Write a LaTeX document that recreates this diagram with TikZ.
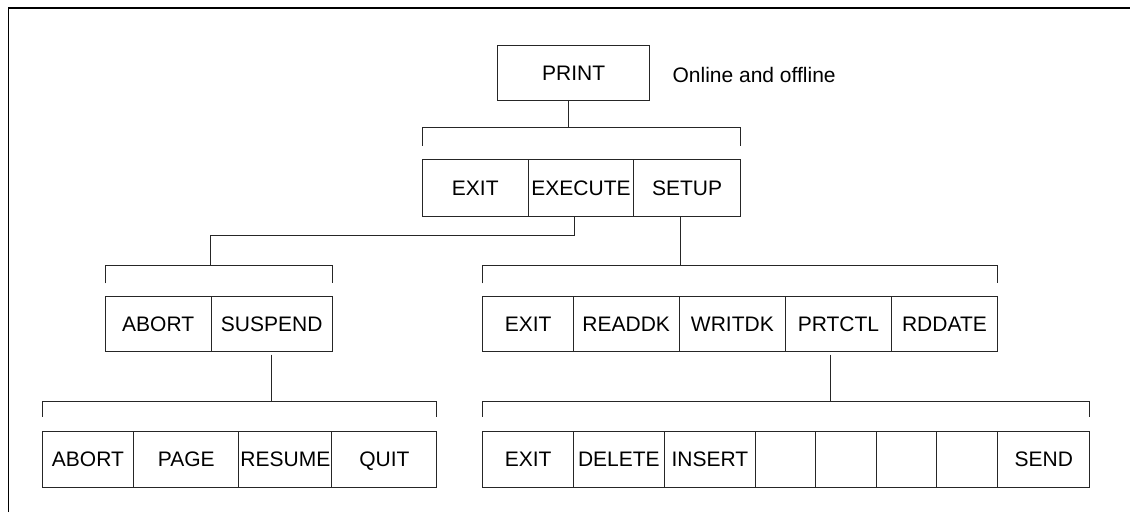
\documentclass[tikz,border=0pt]{standalone}
\usepackage{fontspec}
\setmainfont{Liberation Sans}
\begin{document}
\begin{tikzpicture}[x=1pt,y=-1pt,
  lines/.style={line width=1pt, draw=black!85},
  cellbox/.style={draw=black!85, line width=1pt, rectangle, inner sep=0pt, outer sep=0pt,
    minimum height=56pt, anchor=north west, text height=15pt, text depth=0pt,
    font=\fontsize{21}{25}\selectfont},
  notetext/.style={font=\fontsize{21}{25}\selectfont, inner sep=0pt, anchor=base west}]
\useasboundingbox (0,0) rectangle (1130,512);
% frame
\draw[line width=1.3pt] (8.5,512) -- (8.5,8) -- (1130,8);
% level 1
\node[cellbox, minimum width=152pt, minimum height=55pt] (p) at (497.7,45) {PRINT};
\node[notetext] (note) at (672.4,82.7) {Online and offline};
% level 2
\node[cellbox, minimum width=106pt, minimum height=57pt] (a1) at (422.3,159.5) {EXIT};
\node[cellbox, minimum width=105.5pt, minimum height=57pt] (a2) at (528.3,159.5) {EXECUTE};
\node[cellbox, minimum width=106.6pt, minimum height=57pt] (a3) at (633.8,159.5) {SETUP};
% level 3 left
\node[cellbox, minimum width=106pt, minimum height=55.4pt] (b1) at (105.2,296.3) {ABORT};
\node[cellbox, minimum width=121.1pt, minimum height=55.4pt] (b2) at (211.2,296.3) {SUSPEND};
% level 3 right
\node[cellbox, minimum width=90.4pt, minimum height=55.4pt] (c1) at (482.9,296.3) {EXIT};
\node[cellbox, minimum width=105.9pt, minimum height=55.4pt] (c2) at (573.3,296.3) {READDK};
\node[cellbox, minimum width=106.3pt, minimum height=55.4pt] (c3) at (679.2,296.3) {WRITDK};
\node[cellbox, minimum width=106pt, minimum height=55.4pt] (c4) at (785.5,296.3) {PRTCTL};
\node[cellbox, minimum width=105.9pt, minimum height=55.4pt] (c5) at (891.5,296.3) {RDDATE};
% level 4 left
\node[cellbox, minimum width=91.5pt] (d1) at (42.2,431) {ABORT};
\node[cellbox, minimum width=105.2pt] (d2) at (133.7,431) {PAGE};
\node[cellbox, minimum width=93pt] (d3) at (238.9,431) {RESUME};
\node[cellbox, minimum width=104.9pt] (d4) at (331.9,431) {QUIT};
% level 4 right
\node[cellbox, minimum width=90.4pt] (e1) at (482.9,431) {EXIT};
\node[cellbox, minimum width=91.2pt] (e2) at (573.3,431) {DELETE};
\node[cellbox, minimum width=90.8pt] (e3) at (664.5,431) {INSERT};
\node[cellbox, minimum width=60.5pt] (e4) at (755.3,431) {};
\node[cellbox, minimum width=60.6pt] (e5) at (815.8,431) {};
\node[cellbox, minimum width=60.5pt] (e6) at (876.4,431) {};
\node[cellbox, minimum width=60.9pt] (e7) at (936.9,431) {};
\node[cellbox, minimum width=91.9pt] (e8) at (997.8,431) {SEND};
% junctions
\coordinate (j1) at (568.6,127.5);
\coordinate (t2) at (574,235);
\coordinate (j2) at (210.5,265.3);
\coordinate (j3) at (680,265.3);
\coordinate (j4) at (271.4,401.7);
\coordinate (j5) at (830.9,401.7);
% connectors
\draw[lines] (p.south -| j1) -- (j1);
\draw[lines] ([yshift=14pt]a1.north west) -- (a1.north west |- j1) -- (a3.north east |- j1) -- ([yshift=14pt]a3.north east);
\draw[lines] (a2.south -| t2) -- (t2) -| (j2);
\draw[lines] ([yshift=13pt]b1.north west) -- (b1.north west |- j2) -- (b2.north east |- j2) -- ([yshift=13pt]b2.north east);
\draw[lines] (a3.south -| j3) -- (j3);
\draw[lines] ([yshift=13pt]c1.north west) -- (c1.north west |- j3) -- (c5.north east |- j3) -- ([yshift=13pt]c5.north east);
\draw[lines] (b2.south -| j4) ++(0,3) -- (j4);
\draw[lines] ([yshift=14.3pt]d1.north west) -- (d1.north west |- j4) -- (d4.north east |- j4) -- ([yshift=14.3pt]d4.north east);
\draw[lines] (c4.south -| j5) ++(0,3) -- (j5);
\draw[lines] ([yshift=14.3pt]e1.north west) -- (e1.north west |- j5) -- (e8.north east |- j5) -- ([yshift=14.3pt]e8.north east);
\end{tikzpicture}
\end{document}
